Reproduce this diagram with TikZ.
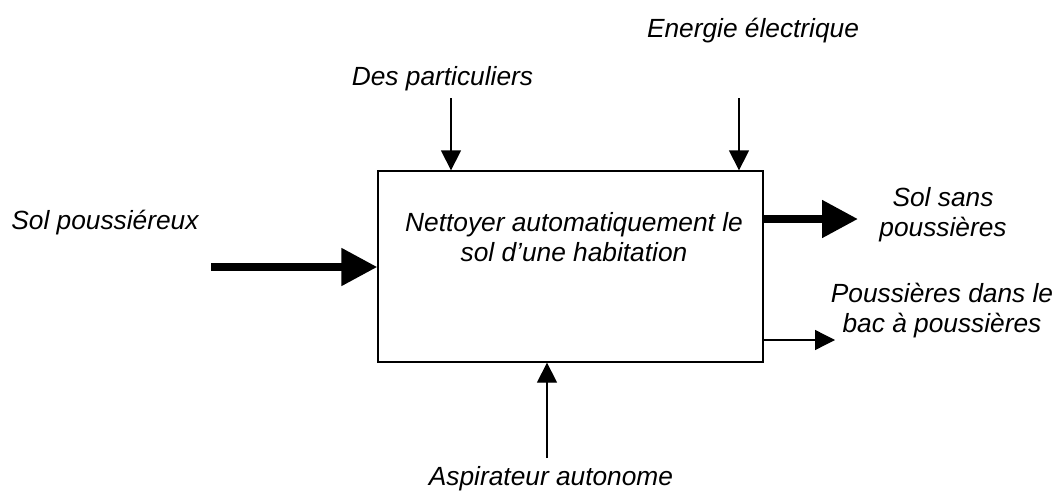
\documentclass[tikz,border=0pt]{standalone}
\usepackage{fontspec}
\setmainfont{Liberation Sans}
\usetikzlibrary{arrows.meta}
\usetikzlibrary{positioning}

\begin{document}
\begin{tikzpicture}[x=1pt,y=-1pt,
    thin arrow/.style={-{Triangle[length=20pt,width=20pt]},line width=1.3pt},
    thick arrow/.style={-{Triangle[length=36pt,width=36pt]},line width=8pt},
    label node/.style={font=\fontsize{26.3}{30}\selectfont\itshape,align=center,inner sep=0pt},
    box node/.style={draw,line width=1.3pt,minimum width=385pt,minimum height=191pt,inner sep=0pt}]
   \useasboundingbox (0,0) rectangle (1058,495);
   \begin{scope}
     \node[box node] (fn) at (570.5,266.5) {};
     \node[label node] (fntext) at (574,237.5) {Nettoyer automatiquement le\\sol d'une habitation};
     % labels
     \node[label node,anchor=base] (energie) at (753,38) {Energie électrique};
     \node[label node,anchor=base] (users) at (442.5,85) {Des particuliers};
     \node[label node,anchor=base] (solin) at (105,229) {Sol poussiéreux};
     \node[label node] (solout) at (943,215) {Sol sans\\poussières};
     \node[label node] (bac) at (942,311) {Poussières dans le\\bac à poussières};
     \node[label node,anchor=base] (aspi) at (551,485) {Aspirateur autonome};
     % free ends
     \coordinate (userstop) at (451,98);
     \coordinate (energietop) at (739,98);
     \coordinate (solinstart) at (211,267);
     \coordinate (soloutend) at (858,219);
     \coordinate (bacend) at (835,340);
     \coordinate (aspibottom) at (547,458);
      \path[thin arrow] (userstop) edge (userstop |- fn.north);
      \path[thin arrow] (energietop) edge (energietop |- fn.north);
      \path[thick arrow] (solinstart) edge (solinstart -| fn.west);
      \path[thick arrow] (soloutend -| fn.east) edge (soloutend);
      \path[thin arrow] (bacend -| fn.east) edge (bacend);
      \path[thin arrow] (aspibottom) edge (aspibottom |- fn.south);
   \end{scope}
\end{tikzpicture}
\end{document}
